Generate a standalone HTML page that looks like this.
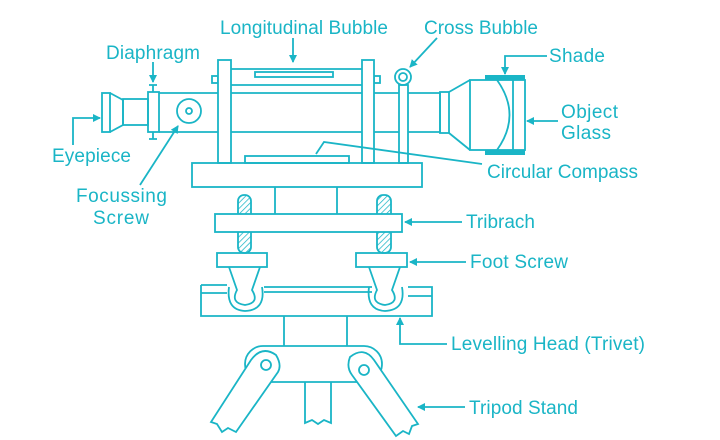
<!DOCTYPE html>
<html><head><meta charset="utf-8"><style>
html,body{margin:0;padding:0;background:#fff;}
svg{display:block;}
text{font-family:"Liberation Sans",sans-serif;font-size:19px;fill:#1ab5c6;}
</style></head><body>
<svg width="720" height="440" viewBox="0 0 720 440" xmlns="http://www.w3.org/2000/svg">
<defs>
<marker id="ah" markerWidth="8" markerHeight="8" refX="7" refY="4" orient="auto" markerUnits="userSpaceOnUse">
<path d="M0,0 L8,4 L0,8 z" fill="#1ab5c6"/></marker>
<pattern id="hatch" width="4" height="4" patternUnits="userSpaceOnUse" patternTransform="rotate(45)">
<line x1="0" y1="0" x2="0" y2="4" stroke="#1ab5c6" stroke-width="1.5"/></pattern>
</defs>
<g fill="none" stroke="#1ab5c6" stroke-width="1.8">
<rect x="102" y="93" width="8" height="39"/>
<path d="M110,93 L123,100 L123,125 L110,132"/>
<rect x="123" y="99" width="25" height="26"/>
<rect x="148" y="92" width="11" height="40"/>
<path d="M153,92 V85 M149,85 H157 M153,132 V139 M149,139 H157"/>
<path d="M159,93 H440 M159,132 H440 M440,92 V133"/>
<circle cx="189" cy="111" r="12"/><circle cx="189" cy="111" r="3"/>
<path d="M231,69 H362 M231,85 H362"/>
<rect x="255" y="72" width="78" height="5"/>
<rect x="212" y="76" width="6" height="7"/><rect x="374" y="76" width="6" height="7"/>
<rect x="218" y="60" width="13" height="103" fill="#fff"/>
<rect x="362" y="60" width="12" height="103" fill="#fff"/>
<rect x="399" y="85" width="9" height="78" fill="#fff"/>
<circle cx="403" cy="77" r="8"/><circle cx="403" cy="77" r="4"/>
<rect x="440" y="92" width="9" height="41"/>
<path d="M449,92 L470,80 M449,133 L470,150"/>
<rect x="470" y="80" width="55" height="70"/>
<path d="M513,80 V150 M497,80 Q522,115 497,150"/>
<rect x="245" y="156" width="104" height="7"/>
<rect x="192" y="163" width="230" height="24"/>
<path d="M275,187 V214 M337,187 V214"/>
<rect x="238" y="195" width="13" height="58" rx="6" fill="url(#hatch)"/>
<rect x="377" y="195" width="14" height="58" rx="6" fill="url(#hatch)"/>
<rect x="215" y="214" width="187" height="18" fill="#fff"/>
<rect x="217" y="253" width="50" height="14"/>
<rect x="356" y="253" width="51" height="14"/>
<path d="M201,285 H227 M264,287 H372 M264,292 H372 M408,287 H432 V316 H201 V285 M201,293 H227 M408,296 H432"/>
<path d="M229,287 Q226,310 245,311 Q266,310 262,287"/>
<path d="M369,287 Q366,310 385,311 Q406,310 402,287"/>
<path d="M229,267 L237,290 Q230,303 245,305 Q260,303 252,290 L260,267"/>
<path d="M369,267 L377,290 Q370,303 385,305 Q400,303 392,290 L400,267"/>
<path d="M284,316 V346 M347,316 V346"/>
<rect x="245" y="346" width="137" height="36" rx="18"/>
<path d="M305,382 V423 L312,420 L318,424 L324,420 L331,423 V382"/>
<path d="M251,360 Q262,345 276,355 Q282,365 278,372 L236,432 L228,428 L222,432 L217,424 L211,422 Z" fill="#fff"/>
<circle cx="266" cy="365" r="5"/>
<path d="M374,360 Q364,346 350,357 Q346,367 352,375 L396,436 L403,431 L409,434 L412,426 L418,424 Z" fill="#fff"/>
<circle cx="364" cy="370" r="5"/>
</g>
<rect x="485" y="75" width="40" height="5" fill="#1ab5c6"/>
<rect x="485" y="150" width="40" height="5" fill="#1ab5c6"/>
<g fill="none" stroke="#1ab5c6" stroke-width="1.8">
<path d="M293,38 V62" marker-end="url(#ah)"/>
<path d="M437,38 L410,67" marker-end="url(#ah)"/>
<path d="M153,62 V82" marker-end="url(#ah)"/>
<path d="M547,56 H505 V74" marker-end="url(#ah)"/>
<path d="M558,121 H527" marker-end="url(#ah)"/>
<path d="M73,145 V118 H100" marker-end="url(#ah)"/>
<path d="M140,185 L178,126" marker-end="url(#ah)"/>
<path d="M482,164 L324,142 L316,154"/>
<path d="M462,222 H405" marker-end="url(#ah)"/>
<path d="M466,262 H410" marker-end="url(#ah)"/>
<path d="M447,344 H400 V318" marker-end="url(#ah)"/>
<path d="M465,407 H418" marker-end="url(#ah)"/>
</g>
<text x="220" y="34" textLength="168">Longitudinal Bubble</text>
<text x="424" y="34" textLength="114">Cross Bubble</text>
<text x="106" y="59" textLength="94">Diaphragm</text>
<text x="549" y="62" textLength="56">Shade</text>
<text x="561" y="118" textLength="57">Object</text>
<text x="561" y="139" textLength="50">Glass</text>
<text x="52" y="162" textLength="79">Eyepiece</text>
<text x="76" y="202" textLength="91">Focussing</text>
<text x="93" y="224" textLength="56">Screw</text>
<text x="487" y="178" textLength="151">Circular Compass</text>
<text x="466" y="228" textLength="69">Tribrach</text>
<text x="470" y="268" textLength="98">Foot Screw</text>
<text x="451" y="350" textLength="194">Levelling Head (Trivet)</text>
<text x="469" y="414" textLength="109">Tripod Stand</text>
</svg>
</body></html>
